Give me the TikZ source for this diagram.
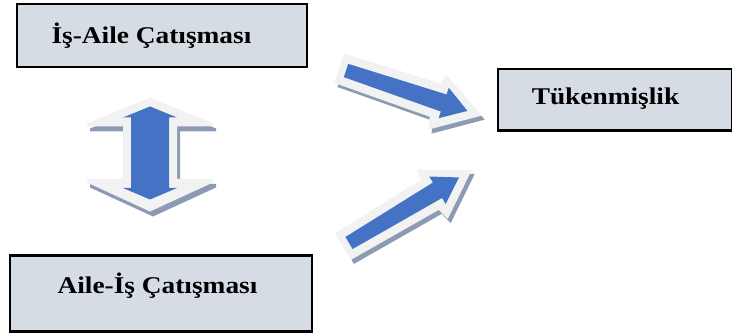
\documentclass[tikz,border=0pt]{standalone}
\usepackage{fontspec}
\setmainfont{Liberation Serif}
\usepackage{graphicx}
\definecolor{boxfill}{HTML}{D6DCE4}
\definecolor{arrowblue}{HTML}{4472C4}
\definecolor{arrowrim}{HTML}{F2F2F2}
\definecolor{arrowshadow}{HTML}{8C9AB4}
\tikzset{
  boxnode/.style={draw=black, line width=2.3pt, fill=boxfill, inner sep=0pt, anchor=north west},
  labeltext/.style={font=\fontsize{24}{28}\selectfont\bfseries, anchor=base, inner sep=0pt},
  bluefill/.style={fill=arrowblue},
  rimfill/.style={fill=arrowrim},
  shadowfill/.style={fill=arrowshadow}
}
\newcommand\slantarrow[3]{%
  \begin{scope}[shift={(#1+3,#2+4)},rotate=#3]
    \fill[shadowfill] (-7,-15.5) -- (94,-17.5) -- (96,-28) -- (143,0) -- (97,30) -- (94,17.5) -- (-7,15.5) -- cycle;
  \end{scope}
  \begin{scope}[shift={(#1,#2)},rotate=#3]
    \fill[rimfill] (-7,-15.5) -- (94,-17.5) -- (96,-28) -- (143,0) -- (97,30) -- (94,17.5) -- (-7,15.5) -- cycle;
    \fill[bluefill] (0,-7) -- (103,-9) -- (103,-16) -- (128,0) -- (103,16) -- (103,9) -- (0,7) -- cycle;
  \end{scope}}
\begin{document}
\begin{tikzpicture}[x=1pt,y=-1pt]
\useasboundingbox (0,0) rectangle (732,336);
% boxes
\node[boxnode, minimum width=290pt, minimum height=63pt] (boxA) at (16,3) {};
\node[boxnode, minimum width=302.5pt, minimum height=76pt] (boxB) at (8.5,254.5) {};
\node[boxnode, minimum width=233.5pt, minimum height=61.5pt] (boxC) at (497,68) {};
\node[labeltext] (textA) at (151.5,44) {\scalebox{1.14}[1]{İş-Aile Çatışması}};
\node[labeltext] (textB) at (157.5,293.3) {\scalebox{1.14}[1]{Aile-İş Çatışması}};
\node[labeltext] (textC) at (605.5,105) {\scalebox{1.14}[1]{Tükenmişlik}};
% double vertical arrow
\begin{scope}[shift={(3,5)}]
\fill[shadowfill] (150,97.5) -- (213,123.5) -- (213,126.5) -- (177,126.5) -- (177,179) -- (213,179) -- (213,182.5) -- (150,211.5) -- (87,182.5) -- (87,179) -- (123,179) -- (123,126.5) -- (87,126.5) -- (87,123.5) -- cycle;
\end{scope}
\fill[rimfill] (150,97.5) -- (213,123.5) -- (213,126.5) -- (177,126.5) -- (177,179) -- (213,179) -- (213,182.5) -- (150,211.5) -- (87,182.5) -- (87,179) -- (123,179) -- (123,126.5) -- (87,126.5) -- (87,123.5) -- cycle;
\fill[bluefill] (150,106.5) -- (177,117.5) -- (169,117.5) -- (169,188) -- (177,188) -- (150,199.5) -- (123,188) -- (131,188) -- (131,117.5) -- (123,117.5) -- cycle;
% slanted arrows
\slantarrow{346}{70.5}{-18.4}
\slantarrow{349}{243}{30.8}
\end{tikzpicture}
\end{document}
